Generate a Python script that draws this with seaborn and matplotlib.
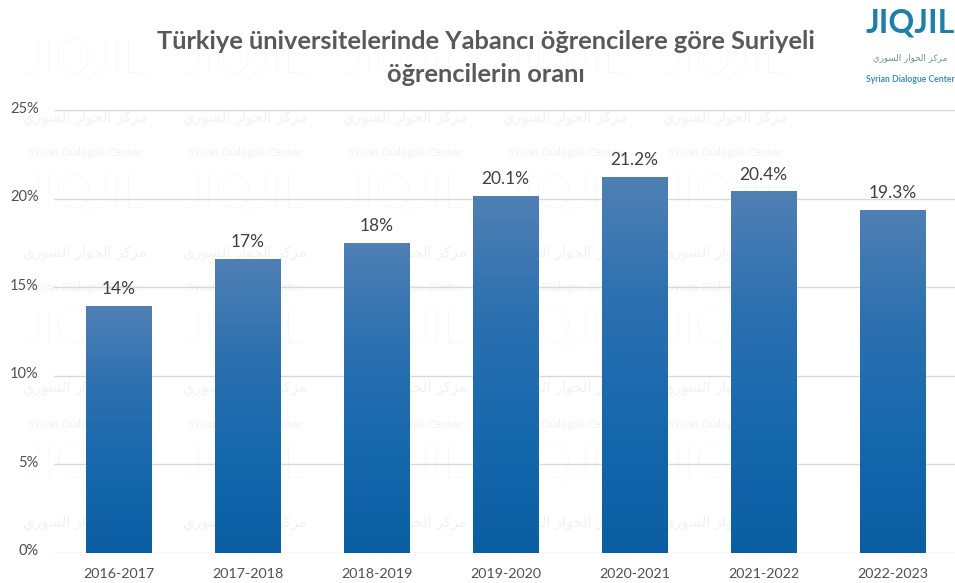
import numpy as np
import pandas as pd
import matplotlib
matplotlib.use("Agg")
import matplotlib.pyplot as plt
from matplotlib.colors import LinearSegmentedColormap
from matplotlib.transforms import ScaledTranslation
import seaborn as sns

years = ["2016-2017", "2017-2018", "2018-2019", "2019-2020", "2020-2021", "2021-2022", "2022-2023"]
values = [13.95, 16.6, 17.5, 20.15, 21.2, 20.4, 19.35]
labels = ["14%", "17%", "18%", "20.1%", "21.2%", "20.4%", "19.3%"]
yticks = [0, 5, 10, 15, 20, 25]
title = "Türkiye üniversitelerinde Yabancı öğrencilere göre Suriyeli\nöğrencilerin oranı"
center_en = "Syrian Dialogue Center"
# "مركز الحوار السوري" in visual order with shaped forms (matplotlib does not shape Arabic)
center_ar = ("\uFEF1\uFEAD\uFEEE\uFEB4\uFEDF\uFE8D \uFEAD\uFE8D\uFEEE\uFEA4\uFEDF\uFE8D "
             "\uFEB0\uFEDB\uFEAE\uFEE3")
mark = "JIQJIL"

sns.set_theme(style="white")
plt.rcParams["font.family"] = ["Lato", "DejaVu Sans"]

W, H = 955, 583
fig = plt.figure(figsize=(W / 100, H / 100), dpi=100, facecolor="white")

# very faint tiled watermark, behind the axes
for cx in np.arange(85, 885, 160):
    for cy in [60, 195, 330, 465]:
        fig.text(cx / W, 1 - cy / H, mark, fontsize=34, color="#f0f5f8", ha="center", va="center",
                 fontweight="light", zorder=-2)
    for cy in [118, 253, 388, 523]:
        fig.text(cx / W, 1 - cy / H, center_ar, fontsize=10.5, color="#f2f2f2", ha="center", va="center",
                 family=["DejaVu Sans"], zorder=-2)
    for cy in [153, 288, 425]:
        fig.text(cx / W, 1 - cy / H, center_en, fontsize=8, color="#f1f1f1",
                 ha="center", va="center", zorder=-2)

ax = fig.add_axes([54 / W, 1 - 552.5 / H, (W - 54) / W, (552.5 - 110) / H])
ax.patch.set_alpha(0)
df = pd.DataFrame({"year": years, "value": values})
sns.barplot(data=df, x="year", y="value", ax=ax, width=0.505, color="#1f6cb0", saturation=1, zorder=3)

# vertical gradient inside each bar
cmap = LinearSegmentedColormap.from_list("bar", ["#4f80b4", "#2c70b0", "#1668ad", "#0a5ea2"])
grad = np.linspace(0, 1, 256).reshape(-1, 1)
for p, lab in zip(ax.patches, labels):
    x0, w, h = p.get_x(), p.get_width(), p.get_height()
    im = ax.imshow(grad, cmap=cmap, aspect="auto", extent=(x0, x0 + w, 0, h), origin="upper", zorder=3)
    im.set_clip_path(p)
    ax.text(x0 + w / 2, h + 0.5, lab, ha="center", va="bottom", fontsize=12.5, color="#404040", zorder=5)
ax.set_xlim(-0.5, 6.484)
ax.set_ylim(0, 25)

ax.set_yticks(yticks)
ax.set_yticklabels([f"{v}%" for v in yticks], fontsize=10.5, color="#505050")
ax.tick_params(axis="x", labelsize=10.3, labelcolor="#505050", length=0, pad=11)
ax.tick_params(axis="y", length=0, pad=11)
shift = ScaledTranslation(0, 2 / 72, fig.dpi_scale_trans)
for t in ax.get_yticklabels():
    t.set_transform(t.get_transform() + shift)
ax.set_xlabel("")
ax.set_ylabel("")
ax.grid(axis="y", color="#d9d9d9", linewidth=1)
ax.set_axisbelow(True)
sns.despine(ax=ax, left=True, top=True, right=True, bottom=True)

fig.text(486 / W, 1 - 58 / H, title, ha="center", va="center", fontsize=18.3, fontweight="bold",
         color="#595959", linespacing=1.5)

# logo, top right
fig.text(910 / W, 1 - 23 / H, mark, ha="center", va="center", fontsize=23, fontweight="bold", color="#1f7fa8")
fig.text(910 / W, 1 - 58 / H, center_ar, ha="center", va="center", fontsize=6.3, color="#6f8f98",
         family=["DejaVu Sans"])
fig.text(910 / W, 1 - 79 / H, center_en, ha="center", va="center", fontsize=6.2,
         fontweight="bold", color="#3f8fb8")

fig.savefig("out.png", dpi=100, facecolor="white")
